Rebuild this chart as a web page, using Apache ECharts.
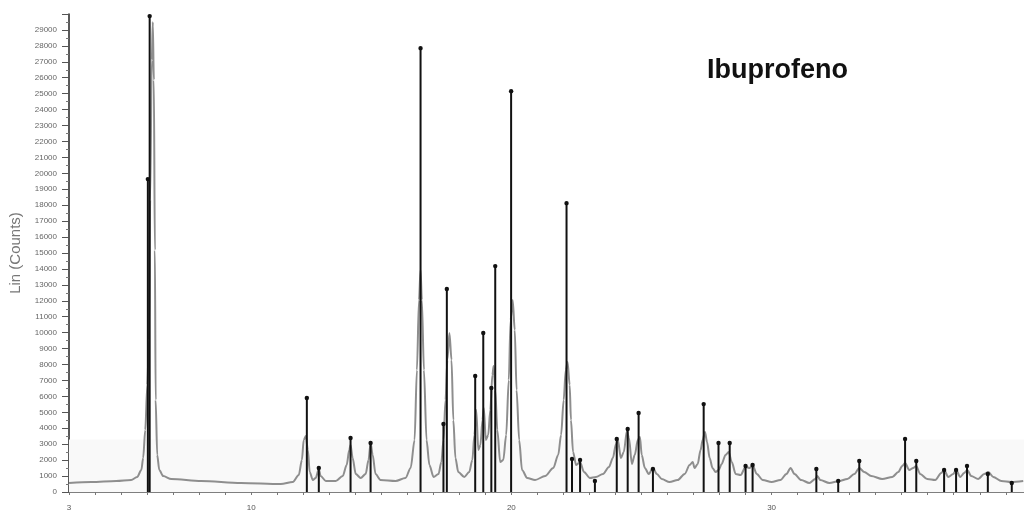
<!DOCTYPE html>
<html>
<head>
<meta charset="utf-8">
<script src="https://cdn.jsdelivr.net/npm/echarts@6/dist/echarts.min.js"></script>
<style>
html,body{margin:0;padding:0;background:#fff;}
#chart{width:1024px;height:514px;}
</style>
</head>
<body>
<div id="chart"></div>
<script>
// Measured pattern (gray): 2-theta (deg)
const patternTheta = [3.00,3.86,4.82,5.39,5.62,5.78,5.85,5.93,6.01,6.07,6.12,6.18,6.22,6.26,6.30,6.33,6.39,6.47,6.62,6.93,8.08,9.61,11.14,11.60,11.83,11.95,12.02,12.10,12.18,12.25,12.37,12.48,12.60,12.67,12.87,13.25,13.52,13.67,13.77,13.82,13.90,14.02,14.21,14.40,14.51,14.59,14.67,14.78,14.97,15.55,15.93,16.13,16.28,16.37,16.45,16.51,16.56,16.64,16.74,16.85,17.01,17.20,17.31,17.39,17.47,17.54,17.62,17.70,17.77,17.85,17.96,18.19,18.38,18.50,18.58,18.65,18.73,18.81,18.89,18.94,19.02,19.11,19.19,19.27,19.32,19.38,19.46,19.57,19.69,19.80,19.90,19.97,20.05,20.13,20.20,20.30,20.41,20.61,20.91,21.30,21.61,21.80,21.91,22.01,22.09,22.16,22.24,22.29,22.37,22.49,22.64,22.79,23.02,23.25,23.52,23.75,23.90,24.02,24.09,24.21,24.32,24.44,24.52,24.63,24.74,24.86,24.94,25.01,25.13,25.28,25.44,25.59,25.78,26.08,26.39,26.66,26.85,26.97,27.04,27.16,27.27,27.35,27.44,27.52,27.62,27.73,27.85,27.97,28.08,28.23,28.35,28.47,28.62,28.81,29.00,29.16,29.27,29.43,29.66,30.00,30.34,30.57,30.73,30.88,31.14,31.45,31.68,31.76,31.87,32.22,32.60,32.91,33.18,33.37,33.56,33.83,34.25,34.64,34.87,35.02,35.13,35.29,35.44,35.56,35.71,35.98,36.29,36.52,36.63,36.79,36.98,37.09,37.25,37.40,37.52,37.67,37.94,38.17,38.33,38.52,38.83,39.21,39.67];
// Measured pattern (gray): counts
const patternCounts = [565,627,690,753,941,1380,2133,3890,6713,9536,18320,27100,29490,25850,15180,5770,2320,1380,1000,816,690,565,500,627,1067,2008,3262,3513,2635,1255,753,878,1443,1004,690,690,1004,1694,2635,2949,2133,1129,878,1129,2008,3074,2321,1129,753,690,878,1506,3262,7654,12046,13928,12046,7654,3262,1694,941,1129,1882,3262,5772,8282,9976,8282,4517,2133,1255,941,1255,2008,3576,5145,2635,2949,4517,5270,3262,3576,5145,7341,7905,6400,3890,1882,2008,3576,7027,10790,12046,10164,6400,3262,1380,878,753,1004,1506,2321,3576,5772,7654,8156,6713,4517,2510,1694,1882,1255,878,941,1129,1569,2133,3011,3262,2133,2510,3827,3388,1757,2321,3262,3451,2321,1506,1129,1506,1129,816,627,753,1129,1694,1882,1506,1757,2635,3262,3764,3137,2133,1506,1255,1380,1757,2321,2510,1882,1129,1067,1569,1506,1694,1129,753,627,753,1129,1506,1129,753,565,816,1004,753,565,690,816,1129,1506,1255,1004,816,941,1255,1631,1820,1380,1506,1631,1129,816,753,1192,1380,941,1129,1380,941,1192,1380,1004,816,1129,1255,941,690,627,690];
// Reference peaks (black sticks)
const stickTheta = [6.03,6.10,12.14,12.60,13.82,14.59,16.51,17.39,17.52,18.61,18.92,19.23,19.38,19.99,22.12,22.33,22.64,23.21,24.05,24.47,24.89,25.44,27.39,27.96,28.39,29.00,29.27,31.72,32.56,33.37,35.13,35.56,36.63,37.09,37.51,38.31,39.23];
const stickCounts = [19700,29930,5960,1570,3450,3140,27920,4330,12800,7340,10040,6590,14240,25220,18190,2130,2070,750,3390,4015,5020,1506,5580,3140,3140,1690,1760,1506,750,2010,3390,2010,1440,1440,1690,1190,630];
// Axis ticks
const xLabelValues = [3,10,20,30];
const titleText = 'Ibuprofeno';
const yAxisName = 'Lin (Counts)';

const patternData = patternTheta.map((t,i)=>[t,patternCounts[i]]);
const stickData = stickTheta.map((t,i)=>[t,stickCounts[i]]);

const chart = echarts.init(document.getElementById('chart'));
chart.setOption({
  animation:false,
  backgroundColor:'#ffffff',
  grid:{left:66,right:0,top:14,bottom:22,containLabel:false},
  xAxis:{
    type:'value',min:3,max:39.7,interval:1,
    axisLine:{show:true,onZero:false,lineStyle:{color:'#555',width:1.5}},
    axisTick:{show:true,length:3,lineStyle:{color:'#777',width:1}},
    axisLabel:{
      showMaxLabel:false,
      margin:12,fontSize:8,color:'#555',fontFamily:'Liberation Sans',
      formatter:v=>xLabelValues.includes(Math.round(v))?String(Math.round(v)):''
    },
    splitLine:{show:false}
  },
  yAxis:{
    type:'value',min:0,max:30000,interval:1000,
    name:yAxisName,nameLocation:'middle',nameGap:46,nameRotate:90,
    nameTextStyle:{fontSize:15,color:'#777',fontFamily:'Liberation Sans'},
    axisLine:{show:true,lineStyle:{color:'#222',width:1.5}},
    axisTick:{show:true,length:7,lineStyle:{color:'#555',width:1}},
    minorTick:{show:true,splitNumber:2,length:3,lineStyle:{color:'#777'}},
    axisLabel:{showMaxLabel:false,margin:12,fontSize:8,color:'#666',fontFamily:'Liberation Sans',
      formatter:v=>String(v)},
    splitLine:{show:false}
  },
  graphic:[{
    type:'text',left:707,top:57,z:100,
    style:{text:titleText,fontSize:27,fontWeight:'bold',fontFamily:'Liberation Sans',fill:'#111'}
  }],
  series:[
    {
      type:'line',data:patternData,showSymbol:false,symbol:'none',
      smooth:0.3,smoothMonotone:'x',
      lineStyle:{color:'#8e8e8e',width:2},z:2,
      markArea:{silent:true,itemStyle:{color:'#f9f9f9'},data:[[{yAxis:0},{yAxis:3300}]]}
    },
    {
      type:'custom',data:stickData,z:5,
      encode:{x:0,y:1},
      renderItem:function(params,api){
        const x=api.value(0), y=api.value(1);
        const top=api.coord([x,y]);
        const bot=api.coord([x,0]);
        return {type:'group',children:[
          {type:'line',shape:{x1:top[0],y1:top[1],x2:bot[0],y2:bot[1]},style:{stroke:'#111',lineWidth:2}},
          {type:'circle',shape:{cx:top[0],cy:top[1]+1,r:2.2},style:{fill:'#111'}}
        ]};
      }
    }
  ]
});
</script>
</body>
</html>
